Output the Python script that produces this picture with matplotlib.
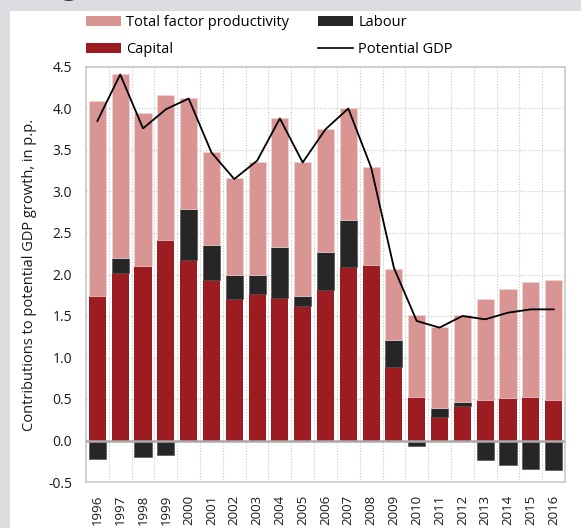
import matplotlib
matplotlib.use("Agg")
import matplotlib.pyplot as plt
from matplotlib.patches import Rectangle, Patch
from matplotlib.lines import Line2D
import numpy as np

years = [str(y) for y in range(1996, 2017)]
capital = [1.74, 2.02, 2.10, 2.41, 2.17, 1.93, 1.70, 1.76, 1.72, 1.62, 1.81,
           2.09, 2.12, 0.88, 0.52, 0.28, 0.41, 0.49, 0.51, 0.52, 0.49]
labour = [-0.22, 0.18, -0.20, -0.18, 0.62, 0.42, 0.29, 0.23, 0.61, 0.12, 0.46,
          0.57, 0.00, 0.33, -0.07, 0.11, 0.05, -0.24, -0.29, -0.34, -0.35]
tfp = [2.35, 2.22, 1.85, 1.75, 1.34, 1.12, 1.17, 1.36, 1.56, 1.61, 1.48,
       1.34, 1.17, 0.86, 0.99, 0.98, 1.05, 1.21, 1.32, 1.39, 1.44]
potential_gdp = [3.85, 4.41, 3.76, 3.99, 4.12, 3.47, 3.15, 3.37, 3.88, 3.35, 3.75,
                 4.00, 3.29, 2.08, 1.44, 1.36, 1.50, 1.46, 1.54, 1.58, 1.58]
yticks = [-0.5, 0.0, 0.5, 1.0, 1.5, 2.0, 2.5, 3.0, 3.5, 4.0, 4.5]

C_TFP = "#d99594"
C_CAP = "#9c1c21"
C_LAB = "#262626"
FONT = "Open Sans"
plt.rcParams["font.family"] = [FONT, "DejaVu Sans"]

W, H = 581, 528
fig = plt.figure(figsize=(W / 100, H / 100), dpi=100)
fig.patch.set_facecolor("#dcdde0")
panel = Rectangle((10 / W, 0), 1 - 10 / W, 1 - 11 / H,
                  transform=fig.transFigure, facecolor="white",
                  edgecolor="none", zorder=-10)
fig.add_artist(panel)
fig.text(38 / W, 1 + 6 / H, "Figure 3 (1996 \u2013 2016)", fontsize=20,
         fontweight="bold", color="#333333", va="baseline", ha="left")

ax = fig.add_axes([86 / W, 1 - 482 / H, (565 - 86) / W, (482 - 67) / H])
ax.set_zorder(1)
x = np.arange(len(years))
cap = np.array(capital)
lab = np.array(labour)
tf = np.array(tfp)
bw = 0.75

lab_bottom = np.where(lab >= 0, cap, 0)
tfp_bottom = cap + np.where(lab >= 0, lab, 0)

ax.bar(x, cap, bw, color=C_CAP, zorder=3, edgecolor="none")
ax.bar(x, lab, bw, bottom=lab_bottom, color=C_LAB, zorder=3,
       edgecolor="#555555", linewidth=0.5)
ax.bar(x, tf, bw, bottom=tfp_bottom, color=C_TFP, zorder=3,
       edgecolor="#f0d6d6", linewidth=0.5)
ax.plot(x, potential_gdp, color="black", linewidth=1.3, zorder=4)

ax.set_xlim(-0.5, len(years) - 0.5)
ax.set_ylim(-0.5, 4.5)
ax.set_yticks(yticks)
ax.set_yticklabels([f"{v:.1f}" for v in yticks])
ax.set_xticks(x)
ax.set_xticklabels(years, rotation=90)
ax.tick_params(axis="both", length=0, labelsize=10, colors="#1a1a1a")
ax.tick_params(axis="y", pad=10)
ax.tick_params(axis="x", pad=9, labelsize=9.5)

for v in yticks[1:]:
    ax.axhline(v, color="#c8c8c8", linestyle=(0, (1, 1.5)), linewidth=0.8, zorder=1)
for k in range(len(years) - 1):
    ax.axvline(k + 0.5, color="#c8c8c8", linestyle=(0, (1, 1.5)), linewidth=0.8, zorder=1)
ax.axhline(0, color="#aaaaaa", linewidth=1.8, zorder=5)

for s in ax.spines.values():
    s.set_color("#c8c8c8")
    s.set_linewidth(1.2)

ax.set_ylabel("Contributions to potential GDP growth, in p.p.", fontsize=10.5,
              color="#1a1a1a", labelpad=8)

handles = [Patch(facecolor=C_TFP, edgecolor="none"),
           Patch(facecolor=C_CAP, edgecolor="none"),
           Patch(facecolor=C_LAB, edgecolor="none"),
           Line2D([0], [0], color="black", linewidth=1.2)]
labels = ["Total factor productivity", "Capital", "Labour", "Potential GDP"]
fig.legend(handles, labels, loc="upper left", bbox_to_anchor=(86 / W, 1 - 15 / H),
           ncol=2, frameon=False, fontsize=10.5, handlelength=2.4,
           handleheight=0.7, handletextpad=0.35, columnspacing=2.0,
           labelspacing=0.85, borderpad=0, borderaxespad=0)

fig.savefig("out.png", dpi=100, facecolor=fig.get_facecolor())
